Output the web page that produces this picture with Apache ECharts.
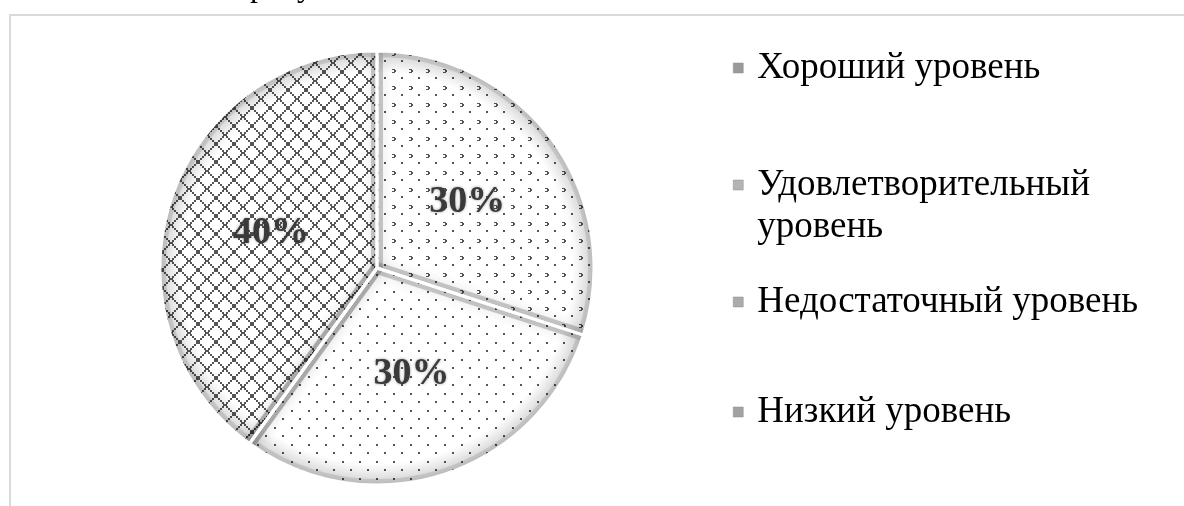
<!DOCTYPE html>
<html>
<head>
<meta charset="utf-8">
<script src="https://cdn.jsdelivr.net/npm/echarts@6/dist/echarts.min.js"></script>
<style>
html, body { margin: 0; padding: 0; background: #fff; }
#chart { width: 1184px; height: 506px; }
</style>
</head>
<body>
<div id="chart"></div>
<script>
// Data
var levels = ['Хороший уровень', 'Удовлетворительный уровень', 'Недостаточный уровень', 'Низкий уровень'];
var shares = [30, 30, 0, 40];
var legendNames = ['Хороший уровень', '\nУдовлетворительный\nуровень', 'Недостаточный уровень', 'Низкий уровень'];

var ink = '#555555';

// Build pattern tiles
function tile(size, draw) {
    var c = document.createElement('canvas');
    c.width = size;
    c.height = size;
    var ctx = c.getContext('2d');
    ctx.fillStyle = '#fff';
    ctx.fillRect(0, 0, size, size);
    ctx.fillStyle = ink;
    draw(ctx);
    return { image: c, repeat: 'repeat' };
}
// confetti like pattern
var patGood = tile(17, function (ctx) {
    ctx.fillRect(1, 1, 3, 1);
    ctx.fillRect(3, 2, 2, 2);
    ctx.fillRect(1, 4, 3, 1);
    ctx.fillRect(10, 9, 2, 2);
});
// sparse dots
var patOk = tile(17, function (ctx) {
    ctx.fillRect(2, 2, 2, 2);
    ctx.fillRect(10, 10, 2, 2);
});
var patLow2 = tile(17, function (ctx) {
    ctx.fillRect(8, 8, 2, 2);
});
// diamond lattice
var patLow = tile(18, function (ctx) {
    for (var i = 0; i < 18; i += 2) {
        ctx.fillRect(i, i, 2, 2);
        ctx.fillRect(16 - i, i, 2, 2);
    }
    ctx.fillRect(7, 8, 4, 2);
    ctx.fillRect(0, 0, 1, 2);
    ctx.fillRect(17, 0, 1, 2);
});
var patterns = [patGood, patOk, patLow2, patLow];
var iconColors = ['#9a9a9a', '#b4b4b4', '#ababab', '#a2a2a2'];

var chart = echarts.init(document.getElementById('chart'));

var cx = 377, cy = 268, r = 217;

var pieData = [];
var shadeData = [];
for (var i = 0; i < levels.length; i++) {
    pieData.push({ name: levels[i], value: shares[i], itemStyle: { color: patterns[i] } });
    shadeData.push({ name: levels[i], value: shares[i] });
}

var legends = [];
var legendTops = [47, 122, 281, 391];
for (var i = 0; i < levels.length; i++) {
    legends.push({
        orient: 'vertical',
        left: 733,
        top: legendTops[i],
        padding: 0,
        itemWidth: 10,
        itemHeight: 10,
        icon: 'rect',
        selectedMode: false,
        data: [{ name: levels[i], itemStyle: { color: iconColors[i], borderColor: '#8c8c8c', borderWidth: 0.5 } }],
        formatter: (function (k) { return function () { return legendNames[k]; }; })(i),
        textStyle: {
            fontFamily: 'Liberation Serif',
            fontSize: 37,
            color: '#000',
            lineHeight: 42,
            padding: [0, 0, 0, 9]
        }
    });
}

var pieBase = {
    type: 'pie',
    center: [cx, cy],
    radius: [0, r],
    startAngle: 90,
    clockwise: true,
    minAngle: 0,
    labelLine: { show: false },
    emphasis: { disabled: true }
};

chart.setOption({
    animation: false,
    graphic: [{
        type: 'rect',
        shape: { x: 10, y: 15, width: 1300, height: 600 },
        style: { fill: 'none', stroke: '#d9d9d9', lineWidth: 2 },
        silent: true
    }, {
        type: 'text',
        left: 250,
        top: -28,
        style: { text: 'рисунке', font: '32px "Liberation Serif"', fill: '#000' },
        silent: true
    }, {
        // mask the outer half of the bevel stroke
        type: 'ring',
        shape: { cx: cx, cy: cy, r: r + 30, r0: r },
        style: { fill: '#fff' },
        z: 50,
        silent: true
    }],
    legend: legends,
    series: [echarts.util.extend({
        name: 'Уровень',
        data: pieData,
        itemStyle: { borderWidth: 0 },
        label: {
            show: true,
            position: 'inside',
            formatter: function (p) { return p.value ? p.value + '%' : ''; },
            fontFamily: 'Liberation Serif',
            fontWeight: 'bold',
            fontSize: 38,
            color: '#3a3a3a',
            textShadowColor: 'rgba(0,0,0,0.4)',
            textShadowBlur: 3
        }
    }, pieBase), echarts.util.extend({
        name: 'Фаска',
        silent: true,
        legendHoverLink: false,
        data: shadeData,
        z: 3,
        itemStyle: {
            color: 'rgba(0,0,0,0)',
            borderColor: 'rgba(0,0,0,0.1)',
            borderWidth: 12,
            borderJoin: 'round',
            shadowBlur: 14,
            shadowColor: 'rgba(0,0,0,0.45)'
        },
        label: { show: false }
    }, pieBase), echarts.util.extend({
        name: 'Край',
        silent: true,
        legendHoverLink: false,
        data: shadeData,
        z: 4,
        itemStyle: {
            color: {
                type: 'radial',
                x: cx, y: cy, r: r,
                global: true,
                colorStops: [
                    { offset: 0, color: 'rgba(0,0,0,0)' },
                    { offset: 0.9, color: 'rgba(0,0,0,0)' },
                    { offset: 1, color: 'rgba(0,0,0,0.16)' }
                ]
            },
            borderColor: '#fff',
            borderWidth: 3
        },
        label: { show: false }
    }, pieBase)]
});
</script>
</body>
</html>
